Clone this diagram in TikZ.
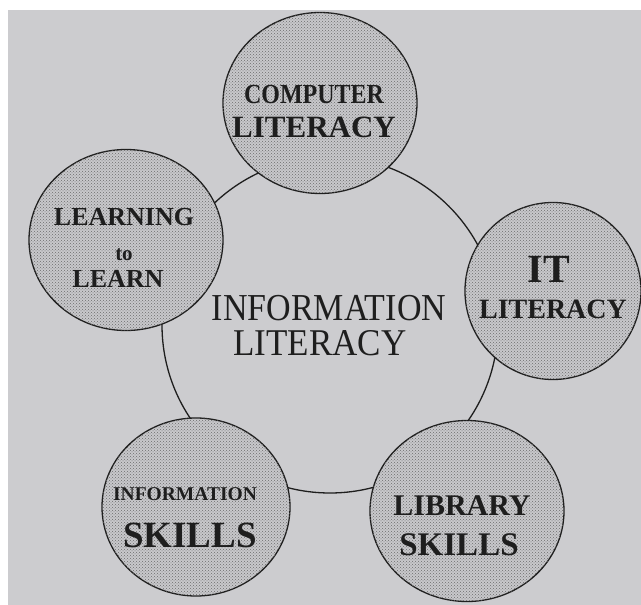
\documentclass[tikz,border=0pt]{standalone}
\usepackage{fontspec}
\setmainfont{Liberation Serif}
\usetikzlibrary{shapes.geometric, patterns}
\definecolor{paper}{RGB}{204,204,207}
\definecolor{stipple}{RGB}{200,200,203}
\definecolor{ink}{RGB}{30,30,30}

\begin{document}
\begin{tikzpicture}[x=1pt, y=-1pt,
  hub/.style={circle, draw=ink, line width=1.3pt, inner sep=0pt,
              minimum size=336pt},
  ring/.style={ellipse, draw=ink, fill=stipple, line width=1.3pt,
               inner sep=0pt, minimum width=194pt, minimum height=181pt,
               postaction={pattern=crosshatch dots, pattern color=gray!85!black}},
  lbl/.style={anchor=base, inner sep=0pt, text=ink, font=\bfseries},
  mid/.style={anchor=base, inner sep=0pt, text=ink}
]
\useasboundingbox (0,0) rectangle (641,605);
\fill[white] (0,0) rectangle (641,605);
\fill[paper] (8,10) rectangle (641,605);
% the big ring first, the five circles cover it
\node[hub] (infolit) at (330,325) {};
\node[ring] (comp) at (320,103) {};
\node[ring] (learn) at (126,240) {};
\node[ring, minimum width=176pt, minimum height=177pt] (itlit) at (553,291) {};
\node[ring, minimum width=188pt, minimum height=178pt] (infoskill) at (196,507) {};
\node[ring] (libskill) at (467,511) {};
% labels
\node[mid, font=\fontsize{34}{34}\selectfont] (infolit-a) at (329,320) {\scalebox{1}[1.12]{INFORMATION}};
\node[mid, font=\fontsize{35}{35}\selectfont] (infolit-b) at (320,355) {\scalebox{1}[1.08]{LITERACY}};
\node[lbl, font=\bfseries\fontsize{24}{24}\selectfont] (comp-a) at (314,103) {\scalebox{1}[1.15]{COMPUTER}};
\node[lbl, font=\bfseries\fontsize{31}{31}\selectfont] (comp-b) at (314,137) {LITERACY};
\node[lbl, font=\bfseries\fontsize{26}{26}\selectfont] (learn-a) at (124,225) {LEARNING};
\node[lbl, font=\bfseries\fontsize{21}{21}\selectfont] (learn-b) at (124,260) {to};
\node[lbl, font=\bfseries\fontsize{26}{26}\selectfont] (learn-c) at (118,287) {LEARN};
\node[lbl, font=\bfseries\fontsize{40}{40}\selectfont] (itlit-a) at (549,282) {IT};
\node[lbl, font=\bfseries\fontsize{28}{28}\selectfont] (itlit-b) at (553,318) {LITERACY};
\node[lbl, font=\bfseries\fontsize{19.5}{19.5}\selectfont] (infoskill-a) at (185,500) {INFORMATION};
\node[lbl, font=\bfseries\fontsize{37}{37}\selectfont] (infoskill-b) at (190,547) {SKILLS};
\node[lbl, font=\bfseries\fontsize{30}{30}\selectfont] (libskill-a) at (462,515) {LIBRARY};
\node[lbl, font=\bfseries\fontsize{33}{33}\selectfont] (libskill-b) at (459,555) {SKILLS};
\end{tikzpicture}
\end{document}
